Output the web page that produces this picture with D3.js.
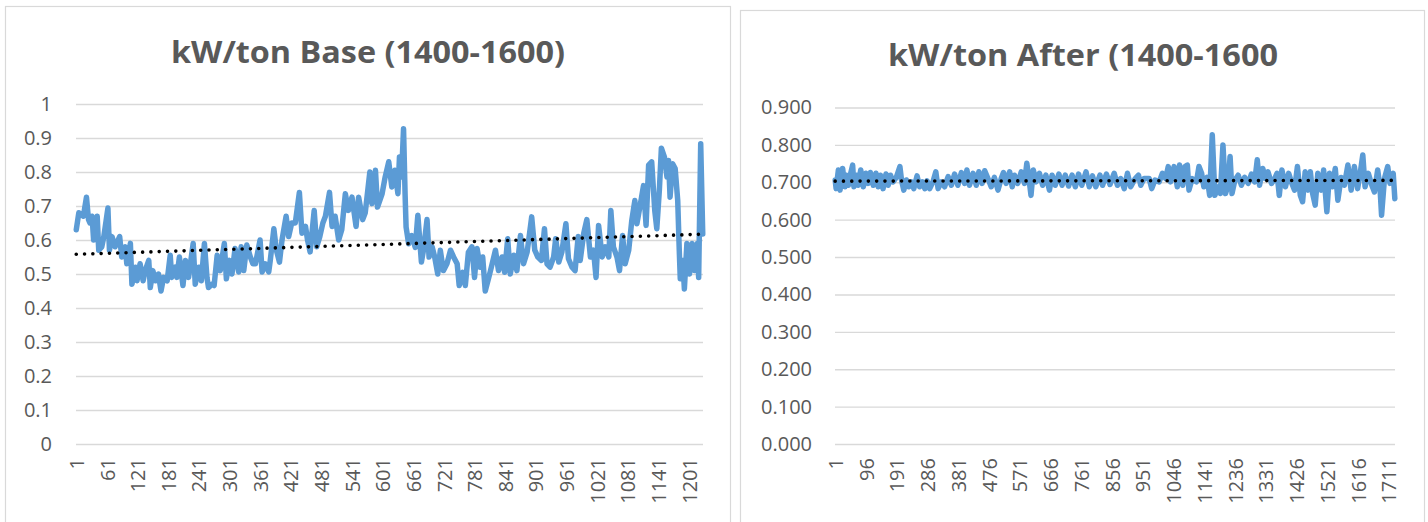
<!DOCTYPE html>
<html><head><meta charset="utf-8">
<script src="https://cdn.jsdelivr.net/npm/d3@7"></script>
<style>
body{margin:0;background:#fff}
text{font-family:'Open Sans',sans-serif}
</style>
</head><body>
<svg id="c" width="1428" height="522"></svg>
<script>
// ---------- DATA ----------
const baseTitle = "kW/ton Base (1400-1600)";
const afterTitle = "kW/ton After (1400-1600";
const baseCount = 1228;
const afterCount = 1730;

const baseYTicks = [0,0.1,0.2,0.3,0.4,0.5,0.6,0.7,0.8,0.9,1];
const baseYLabels = ["0","0.1","0.2","0.3","0.4","0.5","0.6","0.7","0.8","0.9","1"];
const afterYTicks = [0,0.1,0.2,0.3,0.4,0.5,0.6,0.7,0.8,0.9];
const afterYLabels = ["0.000","0.100","0.200","0.300","0.400","0.500","0.600","0.700","0.800","0.900"];
const baseXTicks = [1,61,121,181,241,301,361,421,481,541,601,661,721,781,841,901,961,1021,1081,1141,1201];
const afterXTicks = [1,96,191,286,381,476,571,666,761,856,951,1046,1141,1236,1331,1426,1521,1616,1711];

const baseIdx = [
1,6,15,21,25,28,32,35,42,45,
51,55,63,66,71,77,86,90,97,100,
107,110,117,120,126,132,136,143,146,151,
156,162,167,172,179,185,188,195,198,203,
210,215,221,230,234,241,246,252,257,260,
267,271,277,283,291,295,301,306,312,319,
324,329,335,342,347,352,361,365,371,378,
381,388,393,399,404,412,417,423,430,438,
443,450,454,459,467,472,478,484,489,497,
502,508,515,521,528,534,541,549,554,562,
567,576,580,587,591,600,606,613,619,625,
631,634,638,642,645,647,652,658,665,670,
677,681,688,692,698,703,709,714,720,727,
734,740,747,751,758,763,769,776,781,786,
792,797,802,809,814,822,828,835,840,846,
851,858,864,871,877,884,893,899,905,912,
918,923,929,936,940,946,952,960,965,972,
978,984,988,995,1001,1008,1014,1019,1024,1031,
1037,1044,1048,1053,1060,1065,1071,1076,1083,1089,
1095,1099,1106,1112,1117,1122,1128,1134,1138,1143,
1147,1153,1158,1161,1164,1169,1174,1179,1182,1184,
1189,1192,1197,1202,1207,1212,1217,1220,1224,1228];
const baseVal = [
0.63,0.68,0.67,0.726,0.66,0.65,0.67,0.60,0.67,0.57,
0.58,0.61,0.694,0.57,0.61,0.58,0.61,0.55,0.58,0.53,
0.59,0.47,0.52,0.48,0.53,0.48,0.51,0.54,0.46,0.51,
0.48,0.50,0.45,0.49,0.48,0.555,0.49,0.52,0.49,0.55,
0.466,0.54,0.49,0.59,0.47,0.52,0.48,0.59,0.49,0.46,
0.47,0.466,0.555,0.51,0.59,0.486,0.54,0.50,0.575,0.506,
0.58,0.51,0.585,0.55,0.53,0.53,0.60,0.506,0.53,0.506,
0.54,0.633,0.57,0.535,0.60,0.67,0.61,0.65,0.65,0.74,
0.62,0.64,0.60,0.565,0.687,0.58,0.61,0.65,0.67,0.74,
0.64,0.67,0.60,0.63,0.736,0.687,0.726,0.64,0.726,0.66,
0.68,0.80,0.707,0.805,0.697,0.736,0.785,0.83,0.756,0.805,
0.736,0.844,0.785,0.927,0.736,0.638,0.589,0.613,0.578,0.673,
0.535,0.57,0.66,0.55,0.58,0.55,0.50,0.57,0.51,0.53,
0.57,0.55,0.53,0.466,0.505,0.466,0.564,0.58,0.49,0.575,
0.52,0.55,0.45,0.49,0.52,0.57,0.51,0.55,0.505,0.604,
0.50,0.555,0.51,0.613,0.53,0.564,0.668,0.57,0.55,0.54,
0.633,0.53,0.52,0.55,0.604,0.535,0.564,0.648,0.545,0.52,
0.51,0.61,0.54,0.62,0.66,0.55,0.57,0.49,0.643,0.55,
0.58,0.55,0.687,0.58,0.55,0.51,0.613,0.53,0.57,0.657,
0.716,0.648,0.707,0.76,0.643,0.82,0.83,0.687,0.633,0.746,
0.87,0.844,0.785,0.834,0.726,0.824,0.81,0.716,0.57,0.486,
0.54,0.456,0.59,0.50,0.59,0.51,0.59,0.49,0.883,0.618];

const afterIdx = [
1,4,11,16,24,31,36,42,49,55,
59,67,72,80,88,96,103,110,119,127,
134,141,149,158,165,172,180,190,201,206,
213,221,229,237,244,254,262,271,278,285,
293,303,312,319,329,339,350,360,370,380,
391,401,408,416,427,437,445,455,463,473,
483,493,504,514,521,529,540,548,555,565,
576,586,593,599,606,613,622,632,642,652,
663,671,681,692,702,712,722,733,743,753,
763,776,786,796,806,819,827,839,850,863,
873,883,894,904,914,928,938,945,955,971,
979,989,1002,1012,1022,1030,1037,1048,1058,1065,
1075,1082,1089,1094,1104,1117,1125,1133,1140,1150,
1158,1166,1174,1184,1191,1199,1207,1215,1221,1227,
1236,1246,1256,1266,1277,1287,1297,1305,1312,1322,
1330,1338,1349,1359,1366,1373,1381,1392,1402,1412,
1420,1429,1438,1445,1453,1462,1469,1476,1484,1492,
1503,1510,1520,1528,1537,1546,1554,1564,1574,1585,
1595,1605,1615,1623,1631,1638,1648,1659,1667,1677,
1684,1689,1698,1708,1715,1725,1730];
const afterVal = [
0.706,0.683,0.733,0.679,0.737,0.688,0.719,0.692,0.724,0.746,
0.688,0.719,0.692,0.733,0.688,0.724,0.697,0.726,0.692,0.724,
0.688,0.719,0.683,0.722,0.692,0.719,0.701,0.713,0.742,0.706,
0.679,0.706,0.688,0.701,0.683,0.717,0.688,0.701,0.683,0.704,
0.683,0.701,0.728,0.683,0.701,0.688,0.715,0.692,0.722,0.692,
0.726,0.697,0.733,0.692,0.724,0.692,0.728,0.697,0.731,0.710,
0.688,0.713,0.679,0.710,0.726,0.697,0.728,0.688,0.719,0.697,
0.728,0.697,0.751,0.715,0.665,0.733,0.701,0.724,0.692,0.719,
0.679,0.719,0.692,0.722,0.692,0.719,0.690,0.719,0.688,0.722,
0.692,0.728,0.688,0.717,0.688,0.719,0.692,0.722,0.694,0.724,
0.692,0.710,0.683,0.724,0.688,0.710,0.719,0.692,0.710,0.710,
0.683,0.706,0.701,0.724,0.710,0.742,0.701,0.742,0.688,0.746,
0.692,0.742,0.746,0.679,0.710,0.701,0.742,0.724,0.688,0.713,
0.665,0.827,0.665,0.688,0.670,0.800,0.670,0.692,0.769,0.670,
0.706,0.719,0.692,0.713,0.697,0.722,0.701,0.760,0.692,0.737,
0.710,0.728,0.697,0.710,0.724,0.665,0.733,0.688,0.724,0.697,
0.679,0.742,0.665,0.648,0.728,0.679,0.728,0.670,0.639,0.724,
0.679,0.733,0.621,0.724,0.688,0.737,0.652,0.713,0.692,0.746,
0.679,0.742,0.683,0.724,0.773,0.688,0.724,0.692,0.674,0.733,
0.688,0.612,0.710,0.742,0.697,0.724,0.656];

// linear trendline end values (first and last category)
const baseTrend = [0.558, 0.617];
const afterTrend = [0.703, 0.705];

// ---------- DRAW ----------
const svg = d3.select("#c");
const BLUE = "#5B9BD5", GRID = "#D9D9D9", TXT = "#595959";

function drawChart(o){
  const g = svg.append("g");
  g.append("rect").attr("x", o.panel[0]+0.5).attr("y", o.panel[1]+0.5)
    .attr("width", o.panel[2]).attr("height", o.panel[3])
    .attr("fill", "#fff").attr("stroke", GRID).attr("stroke-width", 1.2);

  g.append("text").attr("x", o.titleX).attr("y", o.titleY)
    .attr("text-anchor", "middle").attr("font-size", 30).attr("font-weight", 700)
    .attr("fill", TXT).attr("textLength", o.titleLen).attr("lengthAdjust", "spacingAndGlyphs")
    .text(o.title);

  const x = d3.scaleLinear().domain([0.5, o.count + 0.5]).range([o.l, o.r]);
  const y = d3.scaleLinear().domain([0, o.yMax]).range([o.b, o.t]);

  const ya = g.append("g").attr("transform", `translate(${o.l},0)`)
    .call(d3.axisLeft(y).tickValues(o.yTicks).tickFormat((d,i)=>o.yLabels[i])
      .tickSize(-(o.r - o.l)).tickPadding(o.yPad));
  ya.select(".domain").remove();
  ya.selectAll("line").attr("stroke", GRID).attr("stroke-width", 1.4);
  ya.selectAll("text").attr("fill", TXT).attr("font-size", 20)
    .attr("font-family", "'Open Sans',sans-serif");

  const xa = g.append("g").attr("transform", `translate(0,${o.b})`)
    .call(d3.axisBottom(x).tickValues(o.xTicks).tickFormat(d => String(d)).tickSize(0));
  xa.select(".domain").remove();
  xa.selectAll("text").attr("fill", TXT).attr("font-size", 20)
    .attr("font-family", "'Open Sans',sans-serif")
    .attr("transform", "rotate(-90)").attr("text-anchor", "end")
    .attr("x", -14).attr("y", 0).attr("dy", "0.36em");

  const pts = d3.zip(o.idx, o.val);
  const line = d3.line().x(d => x(d[0])).y(d => y(d[1]));
  g.append("path").datum(pts).attr("d", line)
    .attr("fill", "none").attr("stroke", BLUE).attr("stroke-width", 5.5)
    .attr("stroke-linejoin", "round").attr("stroke-linecap", "round");

  g.append("path").datum([[1, o.trend[0]], [o.count, o.trend[1]]]).attr("d", line)
    .attr("fill", "none").attr("stroke", "#000").attr("stroke-width", 3.6)
    .attr("stroke-linecap", "round").attr("stroke-dasharray", "0 8.3");
}

drawChart({panel:[5,6,725,530], title: baseTitle, titleX: 368, titleY: 63, titleLen: 394,
  l:76, r:703, t:104, b:444, yMax:1, yPad:24, count: baseCount,
  yTicks: baseYTicks, yLabels: baseYLabels, xTicks: baseXTicks,
  idx: baseIdx, val: baseVal, trend: baseTrend});

drawChart({panel:[740,10,684,530], title: afterTitle, titleX: 1083, titleY: 66, titleLen: 390,
  l:835, r:1395, t:107.5, b:444, yMax:0.9, yPad:23, count: afterCount,
  yTicks: afterYTicks, yLabels: afterYLabels, xTicks: afterXTicks,
  idx: afterIdx, val: afterVal, trend: afterTrend});
</script>
</body></html>
